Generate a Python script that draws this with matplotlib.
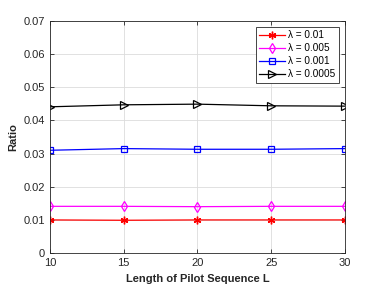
import matplotlib.pyplot as plt

L = [10, 15, 20, 25, 30]
r_001 = [0.0100, 0.0099, 0.0100, 0.0100, 0.0100]
r_0005 = [0.0141, 0.0141, 0.0140, 0.0141, 0.0141]
r_0001 = [0.0310, 0.0315, 0.0313, 0.0313, 0.0315]
r_00005 = [0.0441, 0.0447, 0.0449, 0.0444, 0.0443]
labels = ['λ = 0.01', 'λ = 0.005', 'λ = 0.001', 'λ = 0.0005']

plt.rcParams['font.family'] = ['Liberation Sans', 'DejaVu Sans']

fig = plt.figure(figsize=(3.82, 2.86), dpi=100)
ax = fig.add_axes([0.131, 0.115, 0.772, 0.812])

ax.plot(L, r_001, color='red', marker=(6, 2, 0), ms=5.5, mew=1, lw=0.9, label=labels[0])
ax.plot(L, r_0005, color='magenta', marker='d', ms=5.5, mfc='none', mew=0.9, lw=0.9, label=labels[1])
ax.plot(L, r_0001, color='blue', marker='s', ms=4.5, mfc='none', mew=0.9, lw=0.9, label=labels[2])
ax.plot(L, r_00005, color='black', marker='>', ms=5.5, mfc='none', mew=0.9, lw=0.9, label=labels[3])

ax.set_xlim(10, 30)
ax.set_ylim(0, 0.07)
ax.set_xticks([10, 15, 20, 25, 30])
ax.set_yticks([0, 0.01, 0.02, 0.03, 0.04, 0.05, 0.06, 0.07])
ax.set_yticklabels(['0', '0.01', '0.02', '0.03', '0.04', '0.05', '0.06', '0.07'])
ax.grid(True, color='#dcdcdc', lw=0.6)
ax.set_axisbelow(True)
ax.tick_params(labelsize=8, colors='#262626', direction='in', length=3, width=0.6, top=True, right=True)
for s in ax.spines.values():
    s.set_color('#262626')
    s.set_linewidth(0.6)

ax.set_xlabel('Length of Pilot Sequence L', fontsize=8, fontweight='bold', color='#262626')
ax.set_ylabel('Ratio', fontsize=8, fontweight='bold', color='#262626')

leg = ax.legend(loc='upper right', fontsize=7.2, fancybox=False, framealpha=1,
                edgecolor='#262626', handlelength=2.6, borderpad=0.35, labelspacing=0.3,
                handletextpad=0.3, borderaxespad=0.6)
leg.get_frame().set_linewidth(0.6)

fig.savefig('out.png', dpi=100)
